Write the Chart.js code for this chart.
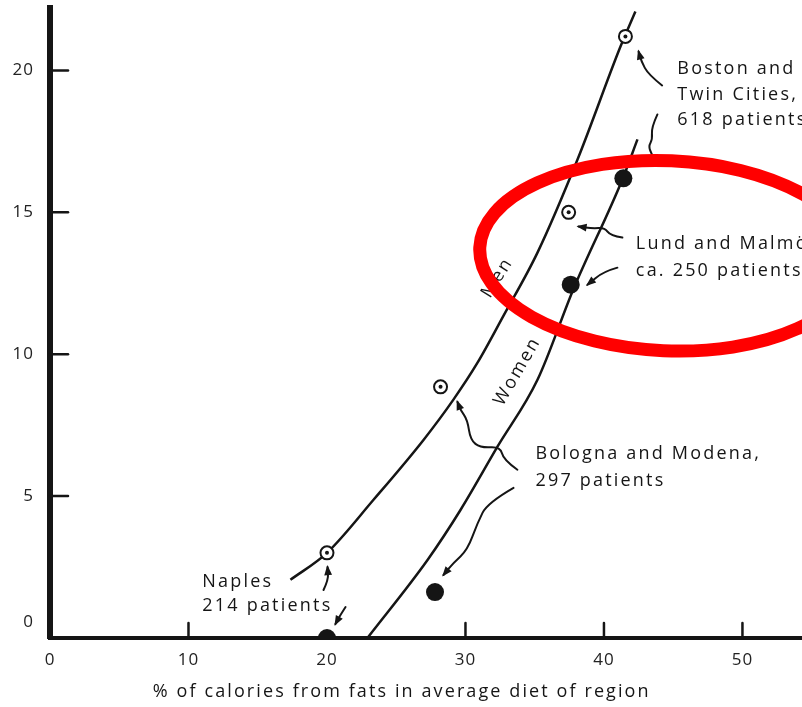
<!DOCTYPE html>
<html>
<head>
<meta charset="utf-8">
<style>
  html, body { margin: 0; padding: 0; background: #fff; overflow: hidden; }
  canvas { display: block; }
</style>
</head>
<body>
<canvas id="chart" width="802" height="707"></canvas>
<script src="https://cdn.jsdelivr.net/npm/chart.js@4.4.1/dist/chart.umd.min.js"></script>
<script>
// --- data ---
const xTicks = [0, 10, 20, 30, 40, 50];
const yTicks = [0, 5, 10, 15, 20];
const xTickMarks = [10, 30, 40, 50];
const yTickMarks = [5, 10, 15, 20];
const xTitle = '% of calories from fats in average diet of region';

// regions: Naples, Bologna/Modena, Lund/Malmö, Boston/Twin Cities
const menFat = [20.0, 28.2, 37.45, 41.55];
const menValues = [3.0, 8.85, 15.0, 21.2];
const womenFat = [20.0, 27.8, 37.6, 41.4];
const womenValues = [0.0, 1.62, 12.45, 16.2];

// hand drawn curves
const menCurveX = [17.36, 20.0, 23.36, 26.97, 29.13, 30.87, 32.74, 35.2, 38.09, 41.2, 42.27];
const menCurveY = [2.05, 3.0, 4.87, 6.98, 8.4, 9.7, 11.35, 13.58, 16.86, 20.85, 22.08];
const womenCurveX = [22.92, 27.26, 29.64, 32.31, 35.2, 37.8, 41.33, 42.42];
const womenCurveY = [0.0, 2.75, 4.51, 6.74, 9.1, 12.3, 16.16, 17.57];

// text notes
const noteBoston = ['Boston and', 'Twin Cities,', '618 patients'];
const noteLund = ['Lund and Malmö', 'ca. 250 patients'];
const noteBologna = ['Bologna and Modena,', '297 patients'];
const noteNaples = ['Naples', '214 patients'];

const FONT = '"Open Sans", "DejaVu Sans", sans-serif';
const INK = '#151515';

const pts = (xs, ys) => xs.map((v, i) => ({ x: v, y: ys[i] }));

// posizioni delle note (in unità dei dati)
const notes = [
    { lines: noteBoston, x: 45.3, y: 20.04, gap: 25.5 },
    { lines: noteLund, x: 42.3, y: 13.9, gap: 27 },
    { lines: noteBologna, x: 35.05, y: 6.49, gap: 27 },
    { lines: noteNaples, x: 11.0, y: 1.98, gap: 24 }
];
const curveLabels = [
    { text: 'Women', x: 33.75, y: 9.4, angle: -60 },
    { text: 'Men', x: 32.3, y: 12.7, angle: -58 }
];
const arrows = [
    { p: [[44.2, 19.47], [43.2, 19.86], [42.7, 20.32], [42.5, 20.67]], head: true },
    { p: [[43.86, 18.45], [43.43, 17.99], [43.5, 17.57], [43.21, 17.32], [43.5, 17.0]], head: false },
    { p: [[41.33, 14.11], [40.47, 14.18], [40.04, 14.46], [39.17, 14.43], [38.16, 14.5]], head: true },
    { p: [[40.97, 13.05], [39.96, 12.91], [38.81, 12.45]], head: true },
    { p: [[33.75, 5.93], [32.74, 6.28], [32.53, 6.74], [31.08, 6.7], [30.36, 6.98], [30.14, 7.69], [29.64, 8.04], [29.42, 8.32]], head: true },
    { p: [[33.47, 5.29], [31.59, 4.76], [30.87, 4.06], [30.14, 3.1], [29.13, 2.65], [28.41, 2.22]], head: true },
    { p: [[19.75, 1.69], [20.11, 2.05], [20.04, 2.5]], head: true },
    { p: [[21.34, 1.09], [20.97, 0.81], [20.61, 0.49]], head: true }
];
const ring = { x: 44.59, y: 13.47, rx: 13.57, ry: 3.35, rot: 2.5 };

function drawPath(ctx, p, head) {
    ctx.beginPath();
    ctx.moveTo(p[0][0], p[0][1]);
    for (let i = 1; i < p.length - 1; i++) {
        const mx = (p[i][0] + p[i + 1][0]) / 2;
        const my = (p[i][1] + p[i + 1][1]) / 2;
        ctx.quadraticCurveTo(p[i][0], p[i][1], mx, my);
    }
    const end = p[p.length - 1];
    ctx.lineTo(end[0], end[1]);
    ctx.stroke();
    if (!head) return;
    const prev = p[p.length - 2];
    const a = Math.atan2(end[1] - prev[1], end[0] - prev[0]);
    const L = 9;
    ctx.beginPath();
    ctx.moveTo(end[0] + 2 * Math.cos(a), end[1] + 2 * Math.sin(a));
    ctx.lineTo(end[0] - L * Math.cos(a - 0.45), end[1] - L * Math.sin(a - 0.45));
    ctx.lineTo(end[0] - L * Math.cos(a + 0.45), end[1] - L * Math.sin(a + 0.45));
    ctx.closePath();
    ctx.fill();
}

const scanPlugin = {
    id: 'scan',
    beforeUpdate(chart) { chart.ctx.letterSpacing = '1px'; },
    beforeDraw(chart) { chart.ctx.letterSpacing = '1px'; },
    afterDatasetsDraw(chart) {
        const { ctx, scales: { x, y } } = chart;
        const P = (a, b) => [x.getPixelForValue(a), y.getPixelForValue(b)];
        ctx.save();
        ctx.strokeStyle = INK;
        ctx.fillStyle = INK;
        ctx.lineCap = 'round';

        // tacche verso l'interno
        ctx.lineWidth = 2.5;
        xTickMarks.forEach(v => {
            const px = x.getPixelForValue(v);
            ctx.beginPath(); ctx.moveTo(px, y.bottom); ctx.lineTo(px, y.bottom - 15); ctx.stroke();
        });
        yTickMarks.forEach(v => {
            const py = y.getPixelForValue(v);
            ctx.beginPath(); ctx.moveTo(x.left, py); ctx.lineTo(x.left + 18, py); ctx.stroke();
        });

        // frecce
        ctx.lineWidth = 2;
        arrows.forEach(a => drawPath(ctx, a.p.map(q => P(q[0], q[1])), a.head));

        // note
        ctx.letterSpacing = '2.2px';
        ctx.font = '18px ' + FONT;
        ctx.textAlign = 'left';
        ctx.textBaseline = 'middle';
        notes.forEach(n => {
            const [px, py] = P(n.x, n.y);
            n.lines.forEach((t, i) => ctx.fillText(t, px, py + i * n.gap));
        });
        curveLabels.forEach(c => {
            const [px, py] = P(c.x, c.y);
            ctx.save();
            ctx.translate(px, py);
            ctx.rotate(c.angle * Math.PI / 180);
            ctx.textAlign = 'center';
            ctx.fillText(c.text, 0, 0);
            ctx.restore();
        });

        // titolo asse x
        ctx.letterSpacing = '2.1px';
        ctx.textAlign = 'center';
        ctx.fillText(xTitle, x.getPixelForValue(25.4), x.bottom - 15);
        ctx.restore();
    },
    afterDraw(chart) {
        const { ctx, scales: { x, y } } = chart;
        const cx = x.getPixelForValue(ring.x), cy = y.getPixelForValue(ring.y);
        const rx = x.getPixelForValue(ring.x + ring.rx) - cx;
        const ry = cy - y.getPixelForValue(ring.y + ring.ry);
        ctx.save();
        ctx.strokeStyle = '#ff0000';
        ctx.lineWidth = 13;
        ctx.beginPath();
        ctx.ellipse(cx, cy, rx, ry, ring.rot * Math.PI / 180, 0, Math.PI * 2);
        ctx.stroke();
        ctx.restore();
    }
};

new Chart(document.getElementById('chart'), {
    type: 'scatter',
    data: {
        datasets: [
            {
                label: 'Men',
                data: pts(menFat, menValues),
                pointRadius: 6.5,
                pointBackgroundColor: '#fff',
                pointBorderColor: INK,
                pointBorderWidth: 2,
                order: 1
            },
            {
                label: 'Men (centre)',
                data: pts(menFat, menValues),
                pointRadius: 2,
                pointBackgroundColor: INK,
                pointBorderWidth: 0,
                order: 0
            },
            {
                label: 'Women',
                data: pts(womenFat, womenValues),
                pointRadius: 9,
                pointBackgroundColor: INK,
                pointBorderWidth: 0,
                order: 2
            },
            {
                label: 'Men curve',
                data: pts(menCurveX, menCurveY),
                showLine: true,
                pointRadius: 0,
                borderColor: INK,
                borderWidth: 2.5,
                cubicInterpolationMode: 'monotone',
                order: 5
            },
            {
                label: 'Women curve',
                data: pts(womenCurveX, womenCurveY),
                showLine: true,
                pointRadius: 0,
                borderColor: INK,
                borderWidth: 2.5,
                cubicInterpolationMode: 'monotone',
                order: 5
            }
        ]
    },
    options: {
        responsive: false,
        animation: false,
        events: [],
        layout: { autoPadding: false, padding: { top: 8, right: 0, bottom: 0, left: 0 } },
        plugins: { legend: { display: false }, tooltip: { enabled: false } },
        scales: {
            x: {
                type: 'linear',
                min: 0,
                max: 54.3,
                grid: { display: false, drawTicks: false },
                border: { display: true, color: INK, width: 4 },
                afterBuildTicks: s => { s.ticks = xTicks.map(v => ({ value: v })); },
                afterFit: s => { s.height = 69; s.paddingLeft = 0; s.paddingRight = 0; },
                ticks: {
                    padding: 12,
                    color: '#222',
                    maxRotation: 0,
                    autoSkip: false,
                    font: { family: FONT, size: 17 },
                    callback: v => String(v)
                }
            },
            y: {
                type: 'linear',
                min: 0,
                max: 22.2,
                grid: { display: false, drawTicks: false },
                border: { display: true, color: INK, width: 6 },
                afterBuildTicks: s => { s.ticks = yTicks.map(v => ({ value: v })); },
                afterFit: s => { s.width = 50; s.paddingTop = 0; s.paddingBottom = 0; },
                ticks: {
                    padding: 16,
                    color: '#222',
                    autoSkip: false,
                    font: c => ({ family: FONT, size: 17, lineHeight: c.tick && c.tick.value === 0 ? 1.9 : 1.2 }),
                    callback: v => v === 0 ? ['0', ''] : String(v)
                }
            }
        }
    },
    plugins: [scanPlugin]
});
</script>
</body>
</html>
